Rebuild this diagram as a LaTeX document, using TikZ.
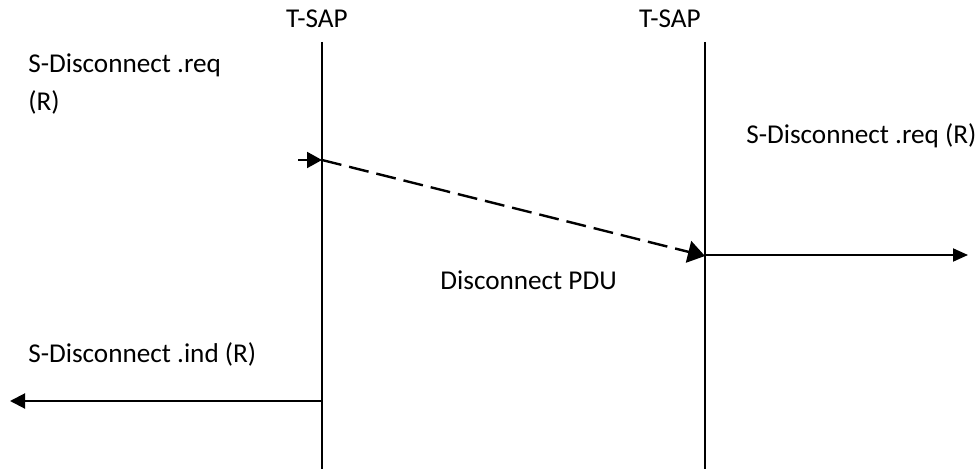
\documentclass[tikz,border=0pt]{standalone}
\usepackage{fontspec}
\setmainfont{Carlito}
\usetikzlibrary{arrows.meta}

\begin{document}
\begin{tikzpicture}[x=0.5pt,y=-0.5pt,
  lifeline/.style={line width=1pt},
  msg/.style={line width=1pt},
  lbl/.style={font=\fontsize{13.6}{16}\selectfont, inner sep=0pt, anchor=base west}]
\useasboundingbox (0,0) rectangle (977,469);
% the two access points
\coordinate (sapA top) at (322,42);
\coordinate (sapA bot) at (322,469);
\coordinate (sapB top) at (705,42);
\coordinate (sapB bot) at (705,469);
\node[lbl, anchor=base] (sapA) at (317,28) {T-SAP};
\node[lbl, anchor=base] (sapB) at (670,28) {T-SAP};
\draw[lifeline] (sapA top) -- (sapA bot);
\draw[lifeline] (sapB top) -- (sapB bot);
% primitives
\coordinate (reqIn) at (298,160);
\coordinate (reqA) at (322,160);
\coordinate (pduB) at (705,256);
\coordinate (reqB) at (705,255);
\coordinate (reqOut) at (968,255);
\coordinate (indA) at (322,401);
\coordinate (indOut) at (10,401);
\draw[msg, -{Triangle[length=7.5pt,width=8pt]}] (reqIn) -- (reqA);
\draw[line width=1.2pt, dash pattern=on 10pt off 4pt,
  -{Triangle[length=8.5pt,width=11pt]}] (reqA) -- (pduB);
\draw[msg, -{Triangle[length=7.5pt,width=6.5pt]}] (reqB) -- (reqOut);
\draw[msg, -{Triangle[length=7.5pt,width=7.5pt]}] (indA) -- (indOut);
% labels
\node[lbl] (reqLabel) at (28,73) {S-Disconnect .req};
\node[lbl] (reqR) at (28,111) {(R)};
\node[lbl] (reqBLabel) at (746,144) {S-Disconnect .req (R)};
\node[lbl] (pduLabel) at (440,290) {Disconnect PDU};
\node[lbl] (indLabel) at (28,363) {S-Disconnect .ind (R)};
\end{tikzpicture}
\end{document}
